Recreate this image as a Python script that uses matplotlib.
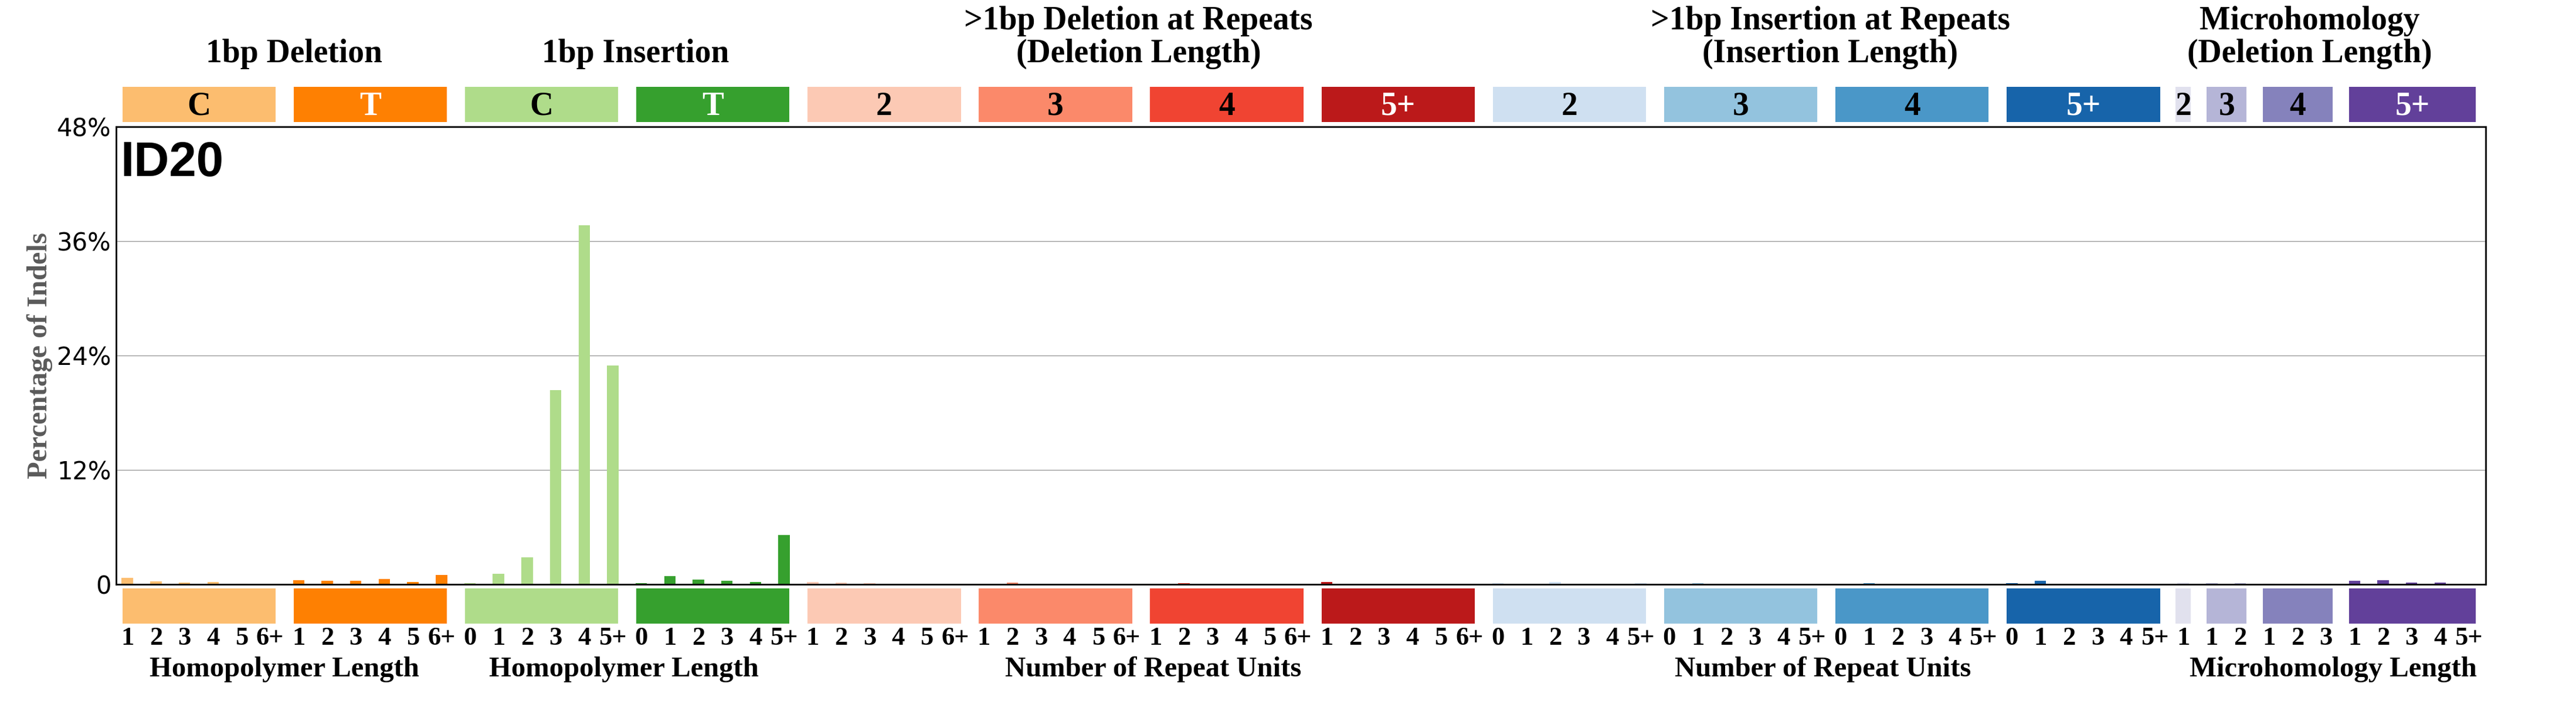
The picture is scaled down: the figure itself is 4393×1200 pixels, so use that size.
import matplotlib
matplotlib.use("Agg")
import matplotlib.pyplot as plt
import matplotlib.transforms as mtransforms

# ---------------- data (percent of indels) ----------------
del_C = [0.67, 0.29, 0.17, 0.23, 0.06, 0.0]
del_T = [0.42, 0.35, 0.35, 0.54, 0.23, 0.98]
ins_C = [0.14, 1.10, 2.83, 20.37, 37.66, 22.97]
ins_T = [0.14, 0.87, 0.50, 0.36, 0.24, 5.17]
del_rep2 = [0.27, 0.21, 0.10, 0.0, 0.0, 0.0]
del_rep3 = [0.0, 0.21, 0.0, 0.0, 0.0, 0.0]
del_rep4 = [0.0, 0.10, 0.0, 0.0, 0.0, 0.0]
del_rep5 = [0.27, 0.0, 0.0, 0.0, 0.0, 0.0]
ins_rep2 = [0.10, 0.08, 0.27, 0.08, 0.0, 0.14]
ins_rep3 = [0.0, 0.10, 0.0, 0.0, 0.0, 0.0]
ins_rep4 = [0.0, 0.10, 0.0, 0.0, 0.0, 0.0]
ins_rep5 = [0.10, 0.35, 0.0, 0.0, 0.0, 0.0]
mh2 = [0.21]
mh3 = [0.10, 0.10]
mh4 = [0.08, 0.08, 0.08]
mh5 = [0.35, 0.41, 0.16, 0.16, 0.0]

series = [del_C, del_T, ins_C, ins_T, del_rep2, del_rep3, del_rep4, del_rep5,
          ins_rep2, ins_rep3, ins_rep4, ins_rep5, mh2, mh3, mh4, mh5]

lab_del = ['1', '2', '3', '4', '5', '6+']
lab_ins = ['0', '1', '2', '3', '4', '5+']
x_labels = [lab_del, lab_del, lab_ins, lab_ins, lab_del, lab_del, lab_del, lab_del,
            lab_ins, lab_ins, lab_ins, lab_ins, ['1'], ['1', '2'], ['1', '2', '3'],
            ['1', '2', '3', '4', '5+']]

box_labels = ['C', 'T', 'C', 'T', '2', '3', '4', '5+', '2', '3', '4', '5+', '2', '3', '4', '5+']
box_text_white = [False, True, False, True, False, False, False, True,
                  False, False, False, True, False, False, False, True]

y_ticks = [0, 12, 24, 36, 48]
y_ticklabels = ['0', '12%', '24%', '36%', '48%']

top_titles = [
    (['1bp Deletion'], 0.1142),
    (['1bp Insertion'], 0.2466),
    (['>1bp Deletion at Repeats', '(Deletion Length)'], 0.4420),
    (['>1bp Insertion at Repeats', '(Insertion Length)'], 0.7105),
    (['Microhomology', '(Deletion Length)'], 0.8966),
]
bottom_titles = [
    ('Homopolymer Length', 0.1104),
    ('Homopolymer Length', 0.2422),
    ('Number of Repeat Units', 0.4477),
    ('Number of Repeat Units', 0.7076),
    ('Microhomology Length', 0.9057),
]

colors = [[253/256, 190/256, 111/256], [255/256, 128/256, 2/256], [176/256, 221/256, 139/256],
          [54/256, 161/256, 46/256], [253/256, 202/256, 181/256], [252/256, 138/256, 106/256],
          [241/256, 68/256, 50/256], [188/256, 25/256, 26/256], [208/256, 225/256, 242/256],
          [148/256, 196/256, 223/256], [74/256, 152/256, 201/256], [23/256, 100/256, 171/256],
          [226/256, 226/256, 239/256], [182/256, 182/256, 216/256], [134/256, 131/256, 189/256],
          [98/256, 64/256, 155/256]]

SERIF = 'Liberation Serif'

fig = plt.figure(figsize=(43.93, 12), dpi=100)
ax = fig.add_axes([0.045, 0.17, 0.92, 0.65])

# bars
xs = []
heights = []
bar_colors = []
tick_texts = []
x = 0.4
for i, vals in enumerate(series):
    for j, v in enumerate(vals):
        xs.append(x)
        heights.append(v)
        bar_colors.append(colors[i])
        tick_texts.append(x_labels[i][j])
        x += 1
ax.bar(xs, heights, width=0.4, color=bar_colors, align='center', zorder=1000)

ax.set_xlim(0, 83)
ax.set_ylim(0, 48)
ax.set_yticks(y_ticks)
ax.set_yticklabels(y_ticklabels, fontsize=30)
ax.set_xticks([])
ax.tick_params(axis='y', length=0, pad=6)
ax.yaxis.grid(True, color=[0.6, 0.6, 0.6], linewidth=1.0, zorder=1)
ax.set_axisbelow(True)
for s in ax.spines.values():
    s.set_linewidth(2)
    s.set_color('black')
    s.set_zorder(1001)

fig.text(0.0155, 0.17 + 0.65 / 2, 'Percentage of Indels', rotation=90, ha='center', va='center',
         fontsize=35, fontfamily=SERIF, fontweight='bold', color='#5a5a5a')

fig.text(0.0467, 0.75, 'ID20', fontsize=60, fontweight='bold', fontfamily='Liberation Sans',
         color='black')

# category boxes
y_top = 0.827
y_bottom = 0.114
box_x = []
box_w = []
xb = 0.0475
for i in range(12):
    box_x.append(xb)
    box_w.append(0.0595)
    xb += 0.0665
box_x += [0.8446, 0.8567, 0.8784, 0.9120]
box_w += [0.0058, 0.0154, 0.0271, 0.0491]

for i in range(16):
    for yb in (y_top, y_bottom):
        fig.patches.append(plt.Rectangle((box_x[i], yb), box_w[i], 0.05, facecolor=colors[i],
                                         edgecolor='none', transform=fig.transFigure, figure=fig))
    fig.text(box_x[i] + box_w[i] / 2, y_top + 0.01, box_labels[i], ha='center', va='baseline',
             fontsize=40, fontfamily=SERIF, fontweight='bold',
             color='white' if box_text_white[i] else 'black')

for lines, xc in top_titles:
    if len(lines) == 1:
        fig.text(xc, 0.912, lines[0], ha='center', va='baseline', fontsize=40,
                 fontfamily=SERIF, fontweight='bold')
    else:
        fig.text(xc, 0.9587, lines[0], ha='center', va='baseline', fontsize=40,
                 fontfamily=SERIF, fontweight='bold')
        fig.text(xc, 0.912, lines[1], ha='center', va='baseline', fontsize=40,
                 fontfamily=SERIF, fontweight='bold')

for txt, xc in bottom_titles:
    fig.text(xc, 0.039, txt, ha='center', va='baseline', fontsize=35,
             fontfamily=SERIF, fontweight='bold')

blend = mtransforms.blended_transform_factory(ax.transData, fig.transFigure)
for xv, t in zip(xs, tick_texts):
    ax.text(xv, 0.084, t, transform=blend, ha='center', va='baseline', fontsize=32,
            fontfamily=SERIF, fontweight='bold', clip_on=False)

fig.savefig('out.png', dpi=100)
